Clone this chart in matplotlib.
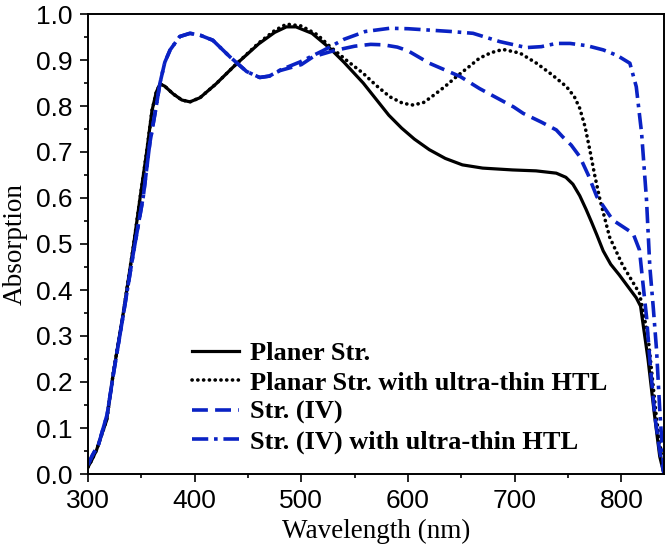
import matplotlib
matplotlib.use("Agg")
import matplotlib.pyplot as plt
from matplotlib.ticker import MultipleLocator

# ---- data ----
# Planer Str. (solid black)
wl_planer = [300, 303.5, 308, 312, 317.5, 323.7, 333, 342.5, 349, 355, 360, 364, 367.5,
             372, 380, 388, 395.6, 405, 420, 438, 460, 475, 486, 495, 510, 527, 540,
             558, 570, 582, 594, 606, 620, 635, 651, 670, 698, 720, 739, 748, 754.6, 761,
             767, 772, 777, 783, 790, 798, 806, 814, 818, 825, 831, 836, 840]
abs_planer = [0.015, 0.03, 0.052, 0.08, 0.117, 0.219, 0.349, 0.494, 0.603, 0.70, 0.79, 0.83, 0.848,
              0.843, 0.826, 0.813, 0.809, 0.818, 0.848, 0.889, 0.935, 0.960, 0.972, 0.972, 0.958, 0.925, 0.895,
              0.85, 0.815, 0.78, 0.752, 0.728, 0.705, 0.686, 0.672, 0.665, 0.661, 0.659, 0.654, 0.645, 0.63, 0.605,
              0.575, 0.548, 0.52, 0.485, 0.456, 0.433, 0.408, 0.383, 0.365, 0.25, 0.13, 0.038, 0.0]

# Planar Str. with ultra-thin HTL (dotted black)
wl_planar_htl = [300, 303.5, 308, 312, 317.5, 323.7, 333, 342.5, 349, 355, 360, 364, 367.5,
                 372, 380, 388, 395.6, 405, 420, 438, 460, 475, 486, 500, 515, 527, 542,
                 558, 570, 583, 595, 605, 615, 625, 635, 645.5, 657, 667, 678, 689, 705,
                 720.5, 735, 748.6, 756, 761, 766, 770.5, 775, 780, 789, 801, 810, 817,
                 825, 833, 840]
abs_planar_htl = [0.015, 0.03, 0.052, 0.08, 0.117, 0.219, 0.349, 0.494, 0.603, 0.70, 0.79, 0.83, 0.848,
                  0.843, 0.826, 0.813, 0.809, 0.818, 0.848, 0.889, 0.937, 0.964, 0.978, 0.974, 0.955, 0.929, 0.90,
                  0.871, 0.845, 0.82, 0.806, 0.802, 0.808, 0.825, 0.843, 0.864, 0.885, 0.904, 0.916, 0.923, 0.915,
                  0.893, 0.868, 0.842, 0.82, 0.795, 0.755, 0.704, 0.65, 0.596, 0.515, 0.455, 0.42, 0.393,
                  0.30, 0.12, 0.0]

# Str. (IV) (dashed blue)
wl_str4 = [300, 304, 310, 318, 324, 333, 342.5, 351.8, 358, 364, 367.5, 372, 377, 386,
           395.6, 405, 417, 433, 448.7, 461, 470, 480, 500, 511, 530, 550, 565, 577,
           590, 600, 620, 649, 667, 699, 708, 725, 739, 745, 753, 761, 769, 777,
           792, 811, 817, 820, 823.6, 827, 831.5, 836, 840]
abs_str4 = [0.02, 0.04, 0.065, 0.13, 0.22, 0.345, 0.48, 0.603, 0.72, 0.80, 0.85, 0.895, 0.922, 0.951,
            0.958, 0.954, 0.943, 0.907, 0.875, 0.862, 0.865, 0.877, 0.89, 0.907, 0.92, 0.93, 0.934, 0.933,
            0.928, 0.92, 0.893, 0.864, 0.838, 0.798, 0.784, 0.765, 0.748, 0.733, 0.715, 0.69, 0.65, 0.603,
            0.552, 0.523, 0.487, 0.42, 0.342, 0.24, 0.125, 0.05, 0.0]

# Str. (IV) with ultra-thin HTL (dash-dot blue)
wl_str4_htl = [300, 304, 310, 318, 324, 333, 342.5, 351.8, 358, 364, 367.5, 372, 377, 386,
               395.6, 405, 417, 433, 448.7, 461, 470, 480, 499, 520, 540, 560, 583, 600,
               620, 640, 661, 686, 711, 725, 739, 752, 768, 783, 796, 808, 814, 819,
               823.6, 826.7, 830, 833, 836, 840]
abs_str4_htl = [0.02, 0.04, 0.065, 0.13, 0.22, 0.345, 0.48, 0.603, 0.72, 0.80, 0.85, 0.895, 0.922, 0.951,
                0.958, 0.954, 0.943, 0.907, 0.875, 0.862, 0.865, 0.878, 0.896, 0.92, 0.945, 0.962, 0.969, 0.968,
                0.965, 0.962, 0.958, 0.94, 0.927, 0.929, 0.936, 0.936, 0.931, 0.922, 0.91, 0.893, 0.842, 0.741,
                0.596, 0.451, 0.36, 0.27, 0.14, 0.0]

labels = ["Planer Str.", "Planar Str. with ultra-thin HTL",
          "Str. (IV)", "Str. (IV) with ultra-thin HTL"]

blue = "#0a22c4"

fig = plt.figure(figsize=(6.68, 5.53), dpi=100)
ax = fig.add_axes([88 / 668, 1 - 474 / 553, 576 / 668, 460 / 553])

ax.plot(wl_planer, abs_planer, color="black", lw=2.3, solid_joinstyle="round", label=labels[0])
ax.plot(wl_planar_htl, abs_planar_htl, color="black", lw=2.6,
        linestyle=(0, (0.05, 1.55)), dash_capstyle="round", label=labels[1])
ax.plot(wl_str4, abs_str4, color=blue, lw=2.6, linestyle=(0, (4.4, 2.0)), label=labels[2])
ax.plot(wl_str4_htl, abs_str4_htl, color=blue, lw=2.6,
        linestyle=(0, (4.5, 1.6, 1.0, 1.6)), label=labels[3])

ax.set_xlim(300, 840)
ax.set_ylim(0, 1.0)
ax.xaxis.set_major_locator(MultipleLocator(100))
ax.xaxis.set_minor_locator(MultipleLocator(50))
ax.yaxis.set_major_locator(MultipleLocator(0.1))
ax.yaxis.set_minor_locator(MultipleLocator(0.05))
ax.yaxis.set_major_formatter(plt.FuncFormatter(lambda v, p: f"{v:.1f}"))
ax.tick_params(which="major", direction="out", length=6, width=1.2, pad=5,
               top=False, right=False)
ax.tick_params(which="minor", direction="out", length=3, width=1.2, top=False, right=False)
for sp in ax.spines.values():
    sp.set_linewidth(1.4)

tick_font = ["Liberation Sans Narrow", "Liberation Sans"]
for lab in ax.get_xticklabels() + ax.get_yticklabels():
    lab.set_family(tick_font)
    lab.set_fontsize(19)

ax.set_xlabel("Wavelength (nm)", family="Liberation Serif", fontsize=19.5, labelpad=4)
ax.set_ylabel("Absorption", family="Liberation Serif", fontsize=19.5, labelpad=6)

ax.legend(loc="upper left", bbox_to_anchor=(0.18, 0.287), frameon=False,
          prop={"family": "Liberation Serif", "weight": "bold", "size": 19},
          handlelength=1.8, handletextpad=0.42, labelspacing=0.22,
          borderpad=0, borderaxespad=0)

fig.savefig("out.png", dpi=100)
